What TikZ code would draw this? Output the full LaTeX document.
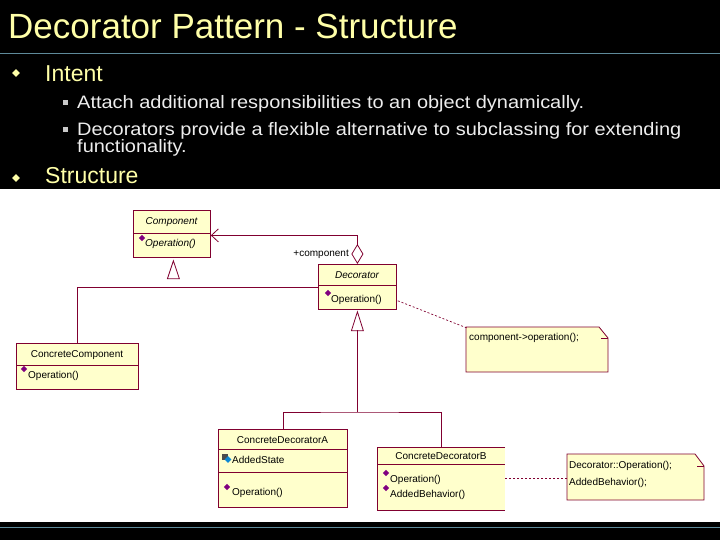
\documentclass[tikz,border=0pt]{standalone}
\usepackage{fontspec}
\setmainfont{Liberation Sans}
\newfontfamily\widesans[FakeStretch=1.11]{Liberation Sans}
\usetikzlibrary{arrows.meta,shapes.geometric,calc}
\definecolor{ttl}{HTML}{FFFFA8}
\definecolor{subtxt}{HTML}{EDEDED}
\definecolor{umlfill}{HTML}{FFFFCC}
\definecolor{umlline}{HTML}{800030}
\definecolor{rulec}{HTML}{5E8A9A}
\definecolor{iconc}{HTML}{800080}
\begin{document}
\begin{tikzpicture}[x=1pt,y=-1pt,
  cls/.style={draw=umlline, fill=umlfill, line width=0.8pt, inner sep=0pt, anchor=north west},
  divl/.style={draw=umlline, line width=0.8pt},
  txt/.style={font=\fontsize{10}{12}\selectfont, inner sep=0pt, text=black},
  itxt/.style={font=\fontsize{10}{12}\selectfont\itshape, inner sep=0pt, text=black},
  icon/.style={fill=iconc, diamond, inner sep=0pt, minimum size=6.5pt},
  assoc/.style={draw=umlline, line width=0.8pt},
  notelink/.style={draw=umlline, line width=0.7pt, dash pattern=on 2pt off 2pt},
  bul/.style={diamond, fill=ttl, inner sep=0pt, minimum size=8pt},
  sbul/.style={rectangle, fill=subtxt!85!black, inner sep=0pt, minimum size=5pt},
  big/.style={inner sep=0pt, anchor=base west, text=ttl, font=\fontsize{23}{26}\selectfont},
  sub/.style={inner sep=0pt, anchor=base west, text=subtxt, font=\widesans\fontsize{18}{20}\selectfont},
]
\useasboundingbox (0,0) rectangle (720,540);
\fill[black] (0,0) rectangle (720,540);
\fill[white] (0,189) rectangle (720,522);
\draw[rulec, line width=1pt] (0,54) -- (720,54);
\draw[rulec, line width=1.4pt] (0,527.5) -- (720,527.5);

% title and bullets
\node[inner sep=0pt, anchor=base west, text=ttl, font=\fontsize{35}{38}\selectfont] (title) at (8,39) {Decorator Pattern - Structure};
\node[bul] (b1) at (16,73) {};
\node[big] (intent) at (45,82) {Intent};
\node[sbul] (s1) at (65,103) {};
\node[sub] (t1) at (77,109) {Attach additional responsibilities to an object dynamically.};
\node[sbul] (s2) at (65,130) {};
\node[sub] (t2) at (77,136) {Decorators provide a flexible alternative to subclassing for extending};
\node[sub] (t3) at (77,153) {functionality.};
\node[bul] (b2) at (16,178) {};
\node[big] (struct) at (45,184) {Structure};

% Component
\node[cls, minimum width=77pt, minimum height=47pt] (comp) at (133,210) {};
\draw[divl] (133,233) -- (210,233);
\node[itxt] (compname) at (171.5,222) {Component};
\node[icon] (compi) at (142,238) {};
\node[itxt, anchor=base west] (compop) at (145,247) {Operation()};

% Decorator
\node[cls, minimum width=78pt, minimum height=45pt] (dec) at (318,264) {};
\draw[divl] (318,285) -- (396,285);
\node[itxt] (decname) at (357,275) {Decorator};
\node[icon] (deci) at (328,293) {};
\node[txt, anchor=base west] (decop) at (331,302) {Operation()};

% ConcreteComponent
\node[cls, minimum width=122pt, minimum height=46pt] (cc) at (16,343) {};
\draw[divl] (16,365) -- (138,365);
\node[txt] (ccname) at (77,355) {ConcreteComponent};
\node[icon] (cci) at (24,369) {};
\node[txt, anchor=base west] (ccop) at (28,378) {Operation()};

% ConcreteDecoratorA
\node[cls, minimum width=129pt, minimum height=78pt] (cda) at (218,429) {};
\draw[divl] (218,449) -- (347,449);
\draw[divl] (218,472) -- (347,472);
\node[txt] (cdaname) at (282.5,440) {ConcreteDecoratorA};
\fill[gray!60!black] (222,454) rectangle (227.5,460);
\node[diamond, fill=cyan!70!blue, inner sep=0pt, minimum size=7pt] (cdai1) at (228,459.5) {};
\node[txt, anchor=base west] (cdaattr) at (232,463) {AddedState};
\node[icon] (cdai2) at (227,487) {};
\node[txt, anchor=base west] (cdaop) at (232,495) {Operation()};

% ConcreteDecoratorB (right border not shown)
\node[fill=umlfill, inner sep=0pt, anchor=north west, minimum width=128pt, minimum height=63pt] (cdb) at (377,447) {};
\draw[divl] (505,447) -- (377,447) -- (377,510) -- (505,510);
\draw[divl] (377,464) -- (505,464);
\node[txt] (cdbname) at (441,456) {ConcreteDecoratorB};
\node[icon] (cdbi1) at (386,473) {};
\node[txt, anchor=base west] (cdbop1) at (390,482) {Operation()};
\node[icon] (cdbi2) at (386,488) {};
\node[txt, anchor=base west] (cdbop2) at (390,497) {AddedBehavior()};

% Notes
\fill[umlfill] (466,327) -- (599,327) -- (608,338) -- (608,372) -- (466,372) -- cycle;
\draw[divl] (599,327) -- (466,327) -- (466,372) -- (608,372) -- (608,338) -- (599,327);
\draw[divl] (601,338) -- (608,338);
\node[txt, anchor=base west] (note1) at (469,340) {component->operation();};
\coordinate (n1c) at (467,328);

\fill[umlfill] (567,454) -- (695,454) -- (704,466) -- (704,500) -- (567,500) -- cycle;
\draw[divl] (695,454) -- (567,454) -- (567,500) -- (704,500) -- (704,466) -- (695,454);
\draw[divl] (697,466) -- (704,466);
\node[txt, anchor=base west] (note2a) at (569,468) {Decorator::Operation();};
\node[txt, anchor=base west] (note2b) at (569,485) {AddedBehavior();};
\coordinate (n2w) at (567,478);

% aggregation Decorator -> Component
\draw[assoc, {Diamond[open,length=20pt,width=12pt]}-{Straight Barb[length=7pt,width=13pt]}] (dec.north) |- ([yshift=-1.5pt]comp.east);
\node[txt, anchor=base east] (role) at (349,256) {+component};

% generalization to Component
\draw[assoc, fill=white] ($(comp.south)+(1.5,3)$) -- ++(6,18) -- ++(-12,0) -- cycle;
\draw[assoc] (cc.north) |- (dec.west);

% generalization to Decorator
\draw[assoc, fill=white] ($(dec.south)+(0,2)$) -- ++(6,19) -- ++(-12,0) -- cycle;
\coordinate (g2) at (357,330);
\coordinate (junc) at (357,412);
\draw[assoc] (g2) -- (junc);
\draw[assoc] (cda.north) |- (junc) -| (cdb.north);

% note links
\draw[notelink] ($(dec.south east)+(1,-9)$) -- (n1c);
\draw[notelink] (n2w) -- (n2w -| cdb.east);
\end{tikzpicture}
\end{document}
